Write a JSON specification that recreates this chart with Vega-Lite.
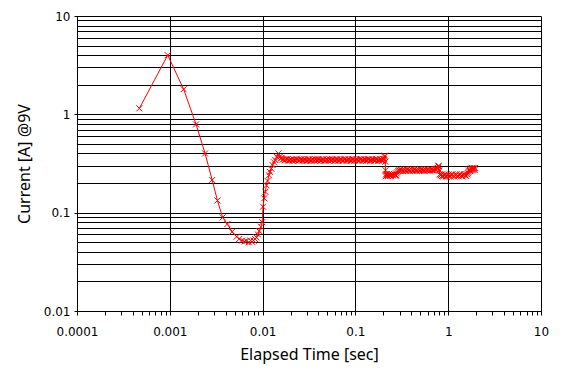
{
  "$schema": "https://vega.github.io/schema/vega-lite/v6.json",
  "width": 464,
  "height": 295,
  "autosize": {"type": "none"},
  "padding": {"left": 77, "top": 16, "right": 28, "bottom": 69},
  "background": "white",
  "config": {
    "view": {"stroke": null},
    "axis": {
      "domainColor": "black",
      "domainWidth": 1,
      "tickColor": "black",
      "gridColor": "black",
      "gridOpacity": 1,
      "gridWidth": 1,
      "labelColor": "black",
      "labelFont": "DejaVu Sans",
      "labelFontSize": 12,
      "titleColor": "black",
      "titleFont": "Noto Sans",
      "titleFontSize": 16,
      "titleFontWeight": "normal"
    }
  },
  "data": {
    "values": [
      {"t": 0.00047, "i": 1.15}, {"t": 0.00095, "i": 4.0}, {"t": 0.00141, "i": 1.8}, {"t": 0.00192, "i": 0.79},
      {"t": 0.0024, "i": 0.40}, {"t": 0.00286, "i": 0.215}, {"t": 0.00326, "i": 0.133}, {"t": 0.00371, "i": 0.0895},
      {"t": 0.00417, "i": 0.0766}, {"t": 0.00469, "i": 0.064}, {"t": 0.00525, "i": 0.0569}, {"t": 0.0056, "i": 0.054},
      {"t": 0.006, "i": 0.052}, {"t": 0.0064, "i": 0.051}, {"t": 0.0067, "i": 0.0515}, {"t": 0.0071, "i": 0.05},
      {"t": 0.0074, "i": 0.052}, {"t": 0.0077, "i": 0.0505}, {"t": 0.008, "i": 0.052}, {"t": 0.0083, "i": 0.054},
      {"t": 0.0086, "i": 0.056}, {"t": 0.0089, "i": 0.06}, {"t": 0.0092, "i": 0.065}, {"t": 0.0096, "i": 0.072},
      {"t": 0.0099, "i": 0.08}, {"t": 0.0101, "i": 0.115}, {"t": 0.0104, "i": 0.14}, {"t": 0.0107, "i": 0.163},
      {"t": 0.011, "i": 0.19}, {"t": 0.0113, "i": 0.21}, {"t": 0.0117, "i": 0.24}, {"t": 0.012, "i": 0.26},
      {"t": 0.0124, "i": 0.28}, {"t": 0.0128, "i": 0.305}, {"t": 0.0133, "i": 0.325}, {"t": 0.0137, "i": 0.343},
      {"t": 0.0142, "i": 0.37}, {"t": 0.0148, "i": 0.40}, {"t": 0.0153, "i": 0.37}, {"t": 0.0157, "i": 0.355},
      {"t": 0.016, "i": 0.36}, {"t": 0.0164, "i": 0.345}, {"t": 0.0168, "i": 0.35}, {"t": 0.0172, "i": 0.34},
      {"t": 0.0177, "i": 0.345}, {"t": 0.0181, "i": 0.352}, {"t": 0.0186, "i": 0.35}, {"t": 0.019, "i": 0.338},
      {"t": 0.0195, "i": 0.34}, {"t": 0.02, "i": 0.348}, {"t": 0.0205, "i": 0.345}, {"t": 0.021, "i": 0.336},
      {"t": 0.0215, "i": 0.35}, {"t": 0.022, "i": 0.344}, {"t": 0.0226, "i": 0.34}, {"t": 0.0232, "i": 0.352},
      {"t": 0.0238, "i": 0.345}, {"t": 0.0244, "i": 0.337}, {"t": 0.025, "i": 0.338}, {"t": 0.0256, "i": 0.347},
      {"t": 0.0263, "i": 0.35}, {"t": 0.027, "i": 0.339}, {"t": 0.0276, "i": 0.342}, {"t": 0.0283, "i": 0.351},
      {"t": 0.029, "i": 0.345}, {"t": 0.0297, "i": 0.336}, {"t": 0.0305, "i": 0.338}, {"t": 0.0312, "i": 0.349},
      {"t": 0.032, "i": 0.348}, {"t": 0.0328, "i": 0.337}, {"t": 0.0337, "i": 0.34}, {"t": 0.0345, "i": 0.351},
      {"t": 0.0354, "i": 0.345}, {"t": 0.0363, "i": 0.338}, {"t": 0.0372, "i": 0.35}, {"t": 0.0381, "i": 0.343},
      {"t": 0.039, "i": 0.338}, {"t": 0.04, "i": 0.352}, {"t": 0.041, "i": 0.345}, {"t": 0.042, "i": 0.337},
      {"t": 0.0431, "i": 0.34}, {"t": 0.0442, "i": 0.35}, {"t": 0.0453, "i": 0.348}, {"t": 0.0464, "i": 0.336},
      {"t": 0.0476, "i": 0.338}, {"t": 0.0488, "i": 0.349}, {"t": 0.05, "i": 0.345}, {"t": 0.0513, "i": 0.338},
      {"t": 0.0526, "i": 0.35}, {"t": 0.0539, "i": 0.343}, {"t": 0.0552, "i": 0.34}, {"t": 0.0566, "i": 0.351},
      {"t": 0.058, "i": 0.345}, {"t": 0.0595, "i": 0.337}, {"t": 0.061, "i": 0.338}, {"t": 0.0625, "i": 0.35},
      {"t": 0.064, "i": 0.348}, {"t": 0.0656, "i": 0.337}, {"t": 0.0673, "i": 0.342}, {"t": 0.069, "i": 0.351},
      {"t": 0.0707, "i": 0.345}, {"t": 0.0725, "i": 0.336}, {"t": 0.0743, "i": 0.338}, {"t": 0.0761, "i": 0.349},
      {"t": 0.078, "i": 0.35}, {"t": 0.08, "i": 0.339}, {"t": 0.082, "i": 0.342}, {"t": 0.0841, "i": 0.352},
      {"t": 0.0862, "i": 0.345}, {"t": 0.0883, "i": 0.337}, {"t": 0.0905, "i": 0.338}, {"t": 0.0928, "i": 0.35},
      {"t": 0.095, "i": 0.348}, {"t": 0.0975, "i": 0.338}, {"t": 0.1, "i": 0.342}, {"t": 0.1025, "i": 0.351},
      {"t": 0.105, "i": 0.345}, {"t": 0.1075, "i": 0.336}, {"t": 0.11, "i": 0.338}, {"t": 0.113, "i": 0.349},
      {"t": 0.116, "i": 0.35}, {"t": 0.119, "i": 0.339}, {"t": 0.122, "i": 0.342}, {"t": 0.125, "i": 0.351},
      {"t": 0.128, "i": 0.345}, {"t": 0.131, "i": 0.337}, {"t": 0.134, "i": 0.34}, {"t": 0.1375, "i": 0.35},
      {"t": 0.141, "i": 0.348}, {"t": 0.1445, "i": 0.337}, {"t": 0.148, "i": 0.342}, {"t": 0.152, "i": 0.352},
      {"t": 0.156, "i": 0.345}, {"t": 0.16, "i": 0.336}, {"t": 0.164, "i": 0.34}, {"t": 0.168, "i": 0.35},
      {"t": 0.172, "i": 0.348}, {"t": 0.1765, "i": 0.338}, {"t": 0.181, "i": 0.342}, {"t": 0.1855, "i": 0.351},
      {"t": 0.19, "i": 0.345}, {"t": 0.1935, "i": 0.337}, {"t": 0.197, "i": 0.34}, {"t": 0.2, "i": 0.352},
      {"t": 0.203, "i": 0.35}, {"t": 0.206, "i": 0.37}, {"t": 0.208, "i": 0.38}, {"t": 0.21, "i": 0.33},
      {"t": 0.211, "i": 0.27}, {"t": 0.212, "i": 0.235}, {"t": 0.214, "i": 0.245},
      {"t": 0.216, "i": 0.238}, {"t": 0.218, "i": 0.248}, {"t": 0.221, "i": 0.24}, {"t": 0.224, "i": 0.236},
      {"t": 0.228, "i": 0.245}, {"t": 0.232, "i": 0.249}, {"t": 0.236, "i": 0.24}, {"t": 0.24, "i": 0.237},
      {"t": 0.245, "i": 0.248}, {"t": 0.25, "i": 0.243}, {"t": 0.255, "i": 0.238}, {"t": 0.26, "i": 0.247},
      {"t": 0.265, "i": 0.245}, {"t": 0.27, "i": 0.238}, {"t": 0.275, "i": 0.24}, {"t": 0.28, "i": 0.25},
      {"t": 0.285, "i": 0.258}, {"t": 0.29, "i": 0.265}, {"t": 0.295, "i": 0.27}, {"t": 0.3, "i": 0.266},
      {"t": 0.305, "i": 0.274}, {"t": 0.312, "i": 0.268}, {"t": 0.32, "i": 0.272}, {"t": 0.328, "i": 0.265},
      {"t": 0.336, "i": 0.276}, {"t": 0.345, "i": 0.27}, {"t": 0.353, "i": 0.266}, {"t": 0.362, "i": 0.275},
      {"t": 0.371, "i": 0.268}, {"t": 0.38, "i": 0.272}, {"t": 0.39, "i": 0.265}, {"t": 0.4, "i": 0.276},
      {"t": 0.41, "i": 0.27}, {"t": 0.42, "i": 0.267}, {"t": 0.43, "i": 0.275}, {"t": 0.441, "i": 0.268},
      {"t": 0.452, "i": 0.272}, {"t": 0.463, "i": 0.266}, {"t": 0.475, "i": 0.276}, {"t": 0.487, "i": 0.27},
      {"t": 0.499, "i": 0.267}, {"t": 0.512, "i": 0.275}, {"t": 0.524, "i": 0.268}, {"t": 0.537, "i": 0.272},
      {"t": 0.551, "i": 0.266}, {"t": 0.565, "i": 0.276}, {"t": 0.579, "i": 0.27}, {"t": 0.593, "i": 0.268},
      {"t": 0.608, "i": 0.275}, {"t": 0.623, "i": 0.27}, {"t": 0.639, "i": 0.267}, {"t": 0.655, "i": 0.276},
      {"t": 0.671, "i": 0.27}, {"t": 0.688, "i": 0.272}, {"t": 0.705, "i": 0.268}, {"t": 0.723, "i": 0.278},
      {"t": 0.741, "i": 0.274}, {"t": 0.76, "i": 0.28}, {"t": 0.775, "i": 0.285}, {"t": 0.785, "i": 0.295},
      {"t": 0.79, "i": 0.3}, {"t": 0.8, "i": 0.27}, {"t": 0.81, "i": 0.245},
      {"t": 0.83, "i": 0.24}, {"t": 0.845, "i": 0.246}, {"t": 0.86, "i": 0.236}, {"t": 0.88, "i": 0.233},
      {"t": 0.9, "i": 0.24}, {"t": 0.92, "i": 0.245}, {"t": 0.94, "i": 0.235}, {"t": 0.962, "i": 0.232},
      {"t": 0.985, "i": 0.24}, {"t": 1.01, "i": 0.245}, {"t": 1.03, "i": 0.236}, {"t": 1.055, "i": 0.233},
      {"t": 1.08, "i": 0.242}, {"t": 1.11, "i": 0.246}, {"t": 1.14, "i": 0.236}, {"t": 1.17, "i": 0.233},
      {"t": 1.2, "i": 0.24}, {"t": 1.23, "i": 0.245}, {"t": 1.26, "i": 0.236}, {"t": 1.29, "i": 0.234},
      {"t": 1.32, "i": 0.242}, {"t": 1.355, "i": 0.246}, {"t": 1.39, "i": 0.238}, {"t": 1.425, "i": 0.234},
      {"t": 1.46, "i": 0.242}, {"t": 1.495, "i": 0.247}, {"t": 1.53, "i": 0.24}, {"t": 1.565, "i": 0.236},
      {"t": 1.6, "i": 0.245}, {"t": 1.63, "i": 0.252}, {"t": 1.65, "i": 0.26}, {"t": 1.675, "i": 0.268},
      {"t": 1.7, "i": 0.275}, {"t": 1.725, "i": 0.265}, {"t": 1.75, "i": 0.27}, {"t": 1.775, "i": 0.28},
      {"t": 1.8, "i": 0.285}, {"t": 1.825, "i": 0.272}, {"t": 1.85, "i": 0.275}, {"t": 1.875, "i": 0.285},
      {"t": 1.9, "i": 0.28}, {"t": 1.925, "i": 0.272}, {"t": 1.95, "i": 0.285}
    ]
  },
  "encoding": {
    "x": {
      "field": "t",
      "type": "quantitative",
      "title": "Elapsed Time [sec]",
      "scale": {"type": "log", "domain": [0.0001, 10]},
      "axis": {
        "values": [0.0001, 0.0002, 0.0003, 0.0004, 0.0005, 0.0006, 0.0007, 0.0008, 0.0009,
                   0.001, 0.002, 0.003, 0.004, 0.005, 0.006, 0.007, 0.008, 0.009,
                   0.01, 0.02, 0.03, 0.04, 0.05, 0.06, 0.07, 0.08, 0.09,
                   0.1, 0.2, 0.3, 0.4, 0.5, 0.6, 0.7, 0.8, 0.9,
                   1, 2, 3, 4, 5, 6, 7, 8, 9, 10],
        "labelExpr": "abs(log(datum.value)/LN10 - round(log(datum.value)/LN10)) < 0.000001 ? format(datum.value, '~g') : ''",
        "gridOpacity": {"condition": {"test": "abs(log(datum.value)/LN10 - round(log(datum.value)/LN10)) < 0.000001", "value": 1}, "value": 0},
        "tickSize": 4,
        "labelPadding": 11,
        "titlePadding": 9,
        "labelFlush": false,
        "labelOverlap": false
      }
    },
    "y": {
      "field": "i",
      "type": "quantitative",
      "title": "Current [A] @9V",
      "scale": {"type": "log", "domain": [0.01, 10]},
      "axis": {
        "values": [0.01, 0.02, 0.03, 0.04, 0.05, 0.06, 0.07, 0.08, 0.09,
                   0.1, 0.2, 0.3, 0.4, 0.5, 0.6, 0.7, 0.8, 0.9,
                   1, 2, 3, 4, 5, 6, 7, 8, 9, 10],
        "labelExpr": "abs(log(datum.value)/LN10 - round(log(datum.value)/LN10)) < 0.000001 ? format(datum.value, '~g') : ''",
        "tickOpacity": {"condition": {"test": "abs(log(datum.value)/LN10 - round(log(datum.value)/LN10)) < 0.000001", "value": 1}, "value": 0},
        "tickSize": 3,
        "labelPadding": 4,
        "titlePadding": 11,
        "labelFlush": false,
        "labelOverlap": false
      }
    }
  },
  "layer": [
    {"mark": {"type": "line", "color": "#ff0000", "strokeWidth": 1}},
    {"mark": {"type": "point", "shape": "M-1,-1L1,1M-1,1L1,-1", "size": 36, "filled": false, "color": "#ff0000", "strokeWidth": 1, "opacity": 1}}
  ]
}
